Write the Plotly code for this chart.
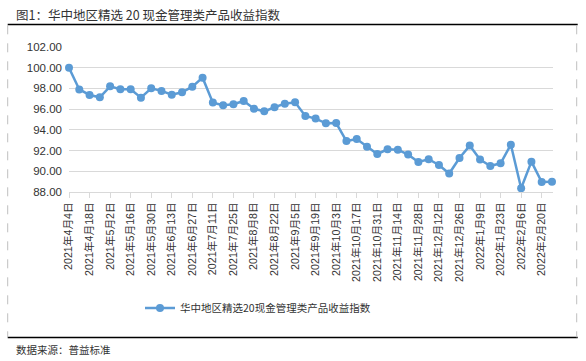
import plotly.graph_objects as go

dates = ["2021年4月4日", "2021年4月11日", "2021年4月18日", "2021年4月25日", "2021年5月2日", "2021年5月9日",
         "2021年5月16日", "2021年5月23日", "2021年5月30日", "2021年6月6日", "2021年6月13日", "2021年6月20日",
         "2021年6月27日", "2021年7月4日", "2021年7月11日", "2021年7月18日", "2021年7月25日", "2021年8月1日",
         "2021年8月8日", "2021年8月15日", "2021年8月22日", "2021年8月29日", "2021年9月5日", "2021年9月12日",
         "2021年9月19日", "2021年9月26日", "2021年10月3日", "2021年10月10日", "2021年10月17日", "2021年10月24日",
         "2021年10月31日", "2021年11月7日", "2021年11月14日", "2021年11月21日", "2021年11月28日", "2021年12月5日",
         "2021年12月12日", "2021年12月19日", "2021年12月26日", "2022年1月2日", "2022年1月9日", "2022年1月16日",
         "2022年1月23日", "2022年1月30日", "2022年2月6日", "2022年2月13日", "2022年2月20日", "2022年2月27日"]

values = [100.00, 97.90, 97.37, 97.14, 98.20, 97.92, 97.92, 97.11, 98.01, 97.76, 97.40, 97.63,
          98.17, 99.04, 96.63, 96.37, 96.47, 96.79, 96.05, 95.79, 96.18, 96.53, 96.66, 95.34,
          95.09, 94.63, 94.66, 92.92, 93.12, 92.38, 91.67, 92.12, 92.09, 91.61, 90.90, 91.16,
          90.61, 89.78, 91.28, 92.48, 91.13, 90.51, 90.77, 92.57, 88.36, 90.93, 88.97, 89.00]

series_name = "华中地区精选20现金管理类产品收益指数"
title_text = "图1：华中地区精选 20 现金管理类产品收益指数"
source_text = "数据来源：普益标准"

x_idx = list(range(len(values)))
tick_idx = x_idx[::2]
tick_text = dates[::2]

FONT = "Liberation Sans, Arial, Noto Sans CJK SC, sans-serif"
CJK = "Noto Sans CJK SC, sans-serif"
BLUE = "#5B9BD5"
WID, HGT = 586, 361

fig = go.Figure()
fig.add_trace(go.Scatter(
    x=x_idx, y=values, mode="lines+markers", name=series_name,
    line=dict(color=BLUE, width=2.5),
    marker=dict(color=BLUE, size=8),
    cliponaxis=False,
))

L, R, T, B = 69.3, 553.3, 46.7, 191.7


def cx(X):
    return X / WID


def cy(Y):
    return 1 - Y / HGT


def pxp(X):
    return (X - L) / (R - L)


def pyp(Y):
    return (B - Y) / (B - T)


shapes = [
    dict(type="line", xref="paper", yref="paper", x0=pxp(8), x1=pxp(578), y0=pyp(24.3), y1=pyp(24.3),
         line=dict(color="black", width=1.5)),
    dict(type="line", xref="paper", yref="paper", x0=pxp(8), x1=pxp(578), y0=pyp(337.3), y1=pyp(337.3),
         line=dict(color="black", width=1.5)),
    dict(type="line", xref="paper", yref="paper", x0=pxp(8), x1=pxp(8), y0=pyp(25), y1=pyp(337),
         line=dict(color="#bfbfbf", width=1, dash="dash")),
    dict(type="line", xref="paper", yref="paper", x0=pxp(577), x1=pxp(577), y0=pyp(25), y1=pyp(337),
         line=dict(color="#bfbfbf", width=1, dash="dash")),
]

annotations = [
    dict(text=title_text, xref="paper", yref="paper", x=pxp(14), y=pyp(14), xanchor="left", yanchor="middle",
         showarrow=False, font=dict(family=CJK, size=12.5, color="#333333")),
    dict(text=source_text, xref="paper", yref="paper", x=pxp(14), y=pyp(349), xanchor="left", yanchor="middle",
         showarrow=False, font=dict(family=CJK, size=10.5, color="#333333")),
]

fig.update_layout(
    width=WID, height=HGT,
    margin=dict(l=L, r=WID - R, t=T, b=HGT - B, pad=0, autoexpand=False),
    paper_bgcolor="white", plot_bgcolor="white",
    font=dict(family=FONT, color="#404040"),
    showlegend=True,
    legend=dict(orientation="h", xref="container", yref="container", x=cx(140), y=cy(308),
                xanchor="left", yanchor="middle",
                font=dict(family=CJK, size=10.5, color="#333333"), itemwidth=30,
                bgcolor="rgba(0,0,0,0)"),
    shapes=shapes,
    annotations=annotations,
    xaxis=dict(range=[0, 47.1], tickmode="array", tickvals=tick_idx, ticktext=tick_text,
               tickangle=-90, ticks="outside", ticklen=5, tickcolor="#d9d9d9", automargin=False,
               showgrid=False, showline=True, linecolor="#d9d9d9", linewidth=1,
               tickfont=dict(family=FONT, size=10.7, color="#333333"), zeroline=False),
    yaxis=dict(range=[88, 102], dtick=2, tickformat=".2f", showgrid=True, gridcolor="#d9d9d9",
               gridwidth=1, zeroline=False, showline=False, ticks="", automargin=False,
               tickfont=dict(family=FONT, size=11.5, color="#333333"), ticklabelstandoff=6),
)

fig.write_html("out.html", config={"displayModeBar": False},
               post_script="document.body.style.margin='0';document.body.style.padding='0';")
